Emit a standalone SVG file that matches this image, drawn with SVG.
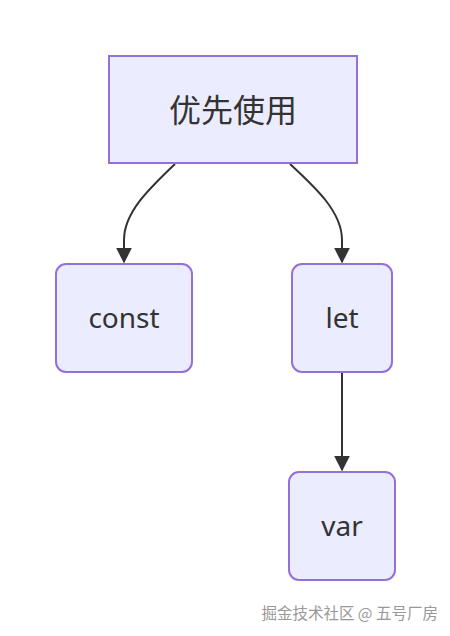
<svg xmlns="http://www.w3.org/2000/svg" width="450" height="636" viewBox="0 0 450 636">
<defs>
<style>
.node rect{fill:#ECECFF;stroke:#9370DB;stroke-width:2}
.lbl{font-family:"Noto Sans","Noto Sans CJK SC",sans-serif;fill:#333;text-anchor:middle;dominant-baseline:central}
.edge{fill:none;stroke:#333;stroke-width:2}
</style>
<marker id="arrow" viewBox="0 0 10 10" refX="9" refY="5" markerWidth="8" markerHeight="8" orient="auto" markerUnits="strokeWidth">
<path d="M0,0 L10,5 L0,10 z" fill="#333"/>
</marker>
</defs>
<rect width="450" height="636" fill="#fff"/>
<g id="edges">
<path class="edge" d="M175,164 C150,188 124,212 124,240 L124,262" marker-end="url(#arrow)"/>
<path class="edge" d="M290,164 C316,188 342,212 342,240 L342,262" marker-end="url(#arrow)"/>
<path class="edge" d="M342,373 L342,470" marker-end="url(#arrow)"/>
</g>
<g id="node-top" class="node">
<rect x="109" y="56" width="248" height="107"/>
<text class="lbl" x="233" y="109" font-size="32">优先使用</text>
</g>
<g id="node-const" class="node">
<rect x="56" y="264" width="136" height="108" rx="10"/>
<text class="lbl" x="124" y="317" font-size="28">const</text>
</g>
<g id="node-let" class="node">
<rect x="292" y="264" width="100" height="108" rx="10"/>
<text class="lbl" x="342" y="317" font-size="28">let</text>
</g>
<g id="node-var" class="node">
<rect x="289" y="472" width="106" height="108" rx="10"/>
<text class="lbl" x="342" y="525" font-size="28">var</text>
</g>
<text x="438" y="612" font-family="'Noto Sans CJK SC',sans-serif" font-size="15.5" fill="#999" text-anchor="end" dominant-baseline="central">掘金技术社区 @ 五号厂房</text>
</svg>
